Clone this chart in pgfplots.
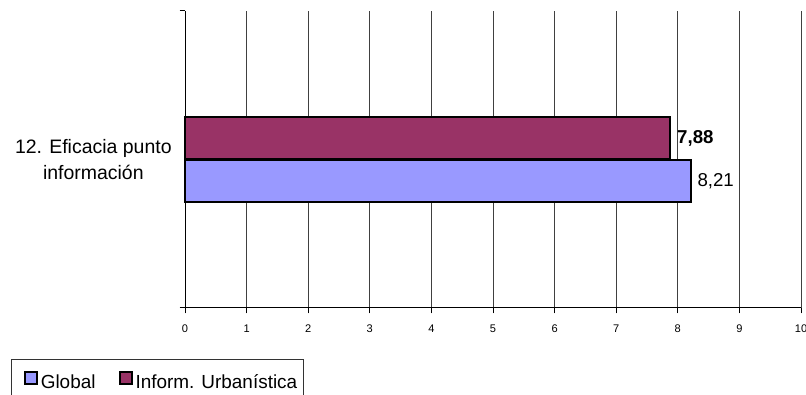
\documentclass[border=0pt]{standalone}
\usepackage{pgfplots}
\pgfplotsset{compat=1.18}
\usepackage{fontspec}
\setmainfont{Liberation Sans}
\definecolor{maroon}{HTML}{993366}
\definecolor{lblue}{HTML}{9999FF}
\begin{document}
\begin{tikzpicture}
\path[use as bounding box] (0,0) rectangle (604.5pt,296.25pt);
\begin{axis}[
  at={(138.75pt,65.25pt)}, anchor=south west,
  scale only axis, width=462pt, height=222.75pt,
  xmin=0, xmax=10, ymin=-1, ymax=1,
  axis lines*=left,
  axis line style={black, line width=0.75pt},
  xtick={0,1,...,10},
  xmajorgrids,
  grid style={black!75, line width=0.6pt},
  tick align=outside,
  major tick length=4pt,
  tick style={black, line width=0.75pt},
  ytick={-1,1}, yticklabels={},
  extra y ticks={0},
  extra y tick labels={12. Eficacia punto\\información},
  extra y tick style={major tick length=0pt, grid=none,
     yticklabel style={align=center, font=\fontsize{14.6}{20}\selectfont, xshift=-6.5pt}},
  /pgf/number format/assume math mode=true,
  xticklabel style={font=\fontsize{8.3}{10}\selectfont, yshift=-5pt},
  legend style={at={(-0.2825,-0.1717)}, anchor=north west, draw=black!80,
     line width=0.75pt, font=\fontsize{14.2}{17}\selectfont, legend columns=2,
     inner ysep=9pt, inner xsep=3pt,
     /tikz/every even column/.append style={column sep=9pt}},
  legend image code/.code={\path (0pt,0pt); \draw[#1, draw=black, line width=1.5pt] (6.5pt,-1.5pt) rectangle (15.5pt,7.5pt);},
  clip=false,
]
\addplot[xbar, bar width=31.5pt, bar shift=-16pt, fill=lblue, draw=black, line width=1.5pt,
  point meta=x, nodes near coords={\pgfmathprintnumber[fixed,fixed zerofill,precision=2,use comma]{\pgfplotspointmeta}},
  nodes near coords align=horizontal,
  nodes near coords style={font=\fontsize{14}{17}\selectfont, black, anchor=west, xshift=1pt, yshift=-16pt}]
  coordinates {(8.21,0)};
\addplot[xbar, bar width=31.5pt, bar shift=16pt, fill=maroon, draw=black, line width=1.5pt,
  point meta=x, nodes near coords={\pgfmathprintnumber[fixed,fixed zerofill,precision=2,use comma]{\pgfplotspointmeta}},
  nodes near coords align=horizontal,
  nodes near coords style={font=\bfseries\fontsize{14}{17}\selectfont, black, anchor=west, xshift=1pt, yshift=16pt}]
  coordinates {(7.88,0)};
\legend{Global, Inform. Urbanística}
\end{axis}
\end{tikzpicture}
\end{document}
